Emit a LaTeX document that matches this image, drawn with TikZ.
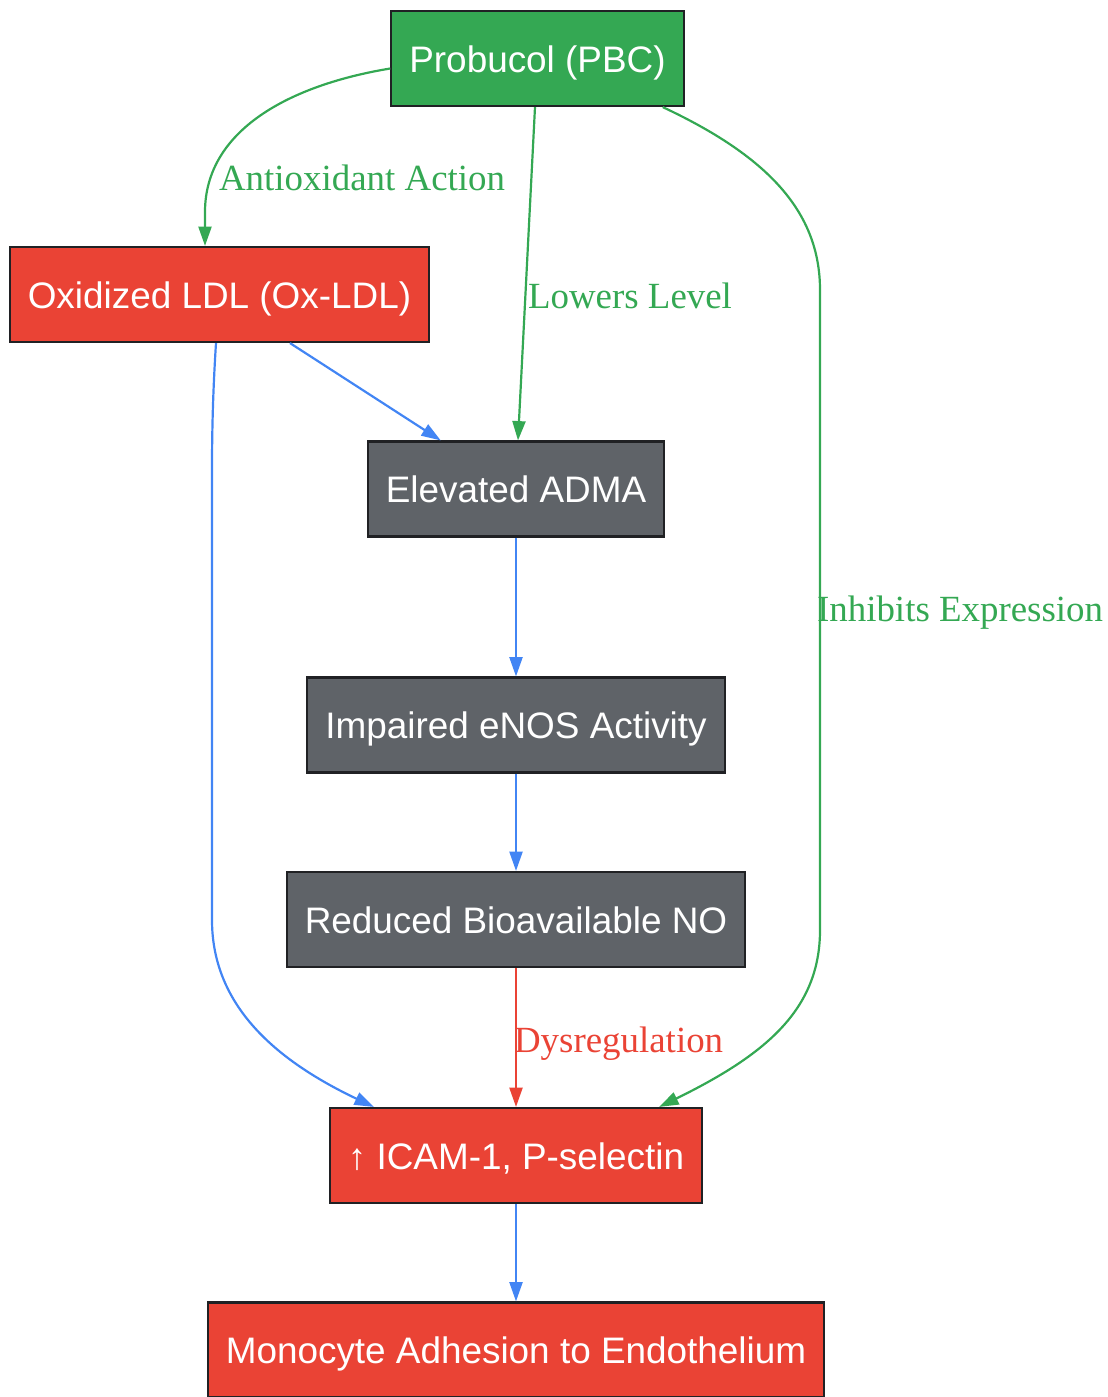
\documentclass[tikz,border=0pt]{standalone}
\usepackage{fontspec}
\setmainfont{Liberation Serif}
\setsansfont{Liberation Sans}
\usetikzlibrary{arrows.meta,calc}

\definecolor{pgreen}{HTML}{34A853}
\definecolor{pred}{HTML}{EA4335}
\definecolor{pgrey}{HTML}{5F6368}
\definecolor{pblue}{HTML}{4285F4}
\definecolor{pborder}{HTML}{202124}

\begin{document}
\begin{tikzpicture}[
		x=0.02cm, y=-0.02cm,
		line width=1.25pt,
		box/.style={draw=pborder, line width=1.25pt, minimum height=1.9cm,
			inner xsep=0.36cm, text height=20pt, text depth=4.2pt, text=white,
			font=\sffamily\fontsize{21}{25}\selectfont},
		greenbox/.style={box, fill=pgreen},
		redbox/.style={box, fill=pred},
		greybox/.style={box, fill=pgrey},
		link/.style={-{Triangle[length=11pt,width=7.4pt]}},
		lbl/.style={anchor=west, inner sep=0pt, text height=14.3pt, text depth=0pt,
			font=\rmfamily\fontsize{21}{25}\selectfont}
		]
	
	\useasboundingbox (0,0) rectangle (1108,1397);
	
	% Nodes
	\node[greenbox] (pbc) at (537.5,58.5) {Probucol (PBC)};
	\node[redbox] (oxldl) at (219.5,294.5) {Oxidized LDL (Ox-LDL)};
	\node[greybox] (adma) at (516,489) {Elevated ADMA};
	\node[greybox] (enos) at (516,725) {Impaired eNOS Activity};
	\node[greybox] (no) at (516,919.5) {Reduced Bioavailable NO};
	\node[redbox] (icam) at (516,1155.5) {↑ ICAM-1, P-selectin};
	\node[redbox] (mono) at (516,1350) {Monocyte Adhesion to Endothelium};
	
	% Probucol effects
	\draw[link, pgreen] ($(pbc.west)+(0,10)$)
		.. controls (290,85) and (205,130) .. (205,212)
		-- ($(oxldl.north)+(-14.5,0)$);
	\node[lbl, text=pgreen] (lblanti) at (218,178) {Antioxidant Action};
	
	\draw[link, pgreen] ($(pbc.south)+(-2.5,0)$) -- ($(adma.north)+(2,0)$);
	\node[lbl, text=pgreen] (lbllow) at (527,296) {Lowers Level};
	
	\draw[link, pgreen] ($(pbc.south east)+(-22,0)$)
		.. controls (765,155) and (820,210) .. (820,290)
		-- (820,930)
		.. controls (820,1010) and (765,1055) .. ($(icam.north east)+(-44,0)$);
	\node[lbl, text=pgreen] (lblinh) at (816,609) {Inhibits Expression};
	
	% Ox-LDL pathway
	\draw[link, pblue] ($(oxldl.south)+(70.5,0)$) -- ($(adma.north west)+(74,0)$);
	\draw[link, pblue] ($(oxldl.south)+(-3.5,0)$)
		.. controls (213,390) and (212,430) .. (212,470)
		-- (212,920)
		.. controls (212,1005) and (275,1060) .. ($(icam.north west)+(45,0)$);
	
	\draw[link, pblue] (adma) -- (enos);
	\draw[link, pblue] (enos) -- (no);
	
	\draw[link, pred] (no) -- (icam);
	\node[lbl, text=pred] (lbldys) at (513,1040) {Dysregulation};
	
	\draw[link, pblue] (icam) -- (mono);
	
\end{tikzpicture}
\end{document}
